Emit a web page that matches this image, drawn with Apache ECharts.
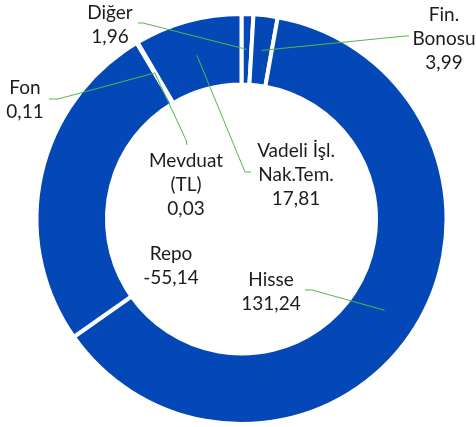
<!DOCTYPE html>
<html>
<head>
<meta charset="utf-8">
<script src="https://cdn.jsdelivr.net/npm/echarts@6/dist/echarts.min.js"></script>
<style>
  html, body { margin: 0; padding: 0; background: #fff; }
  #chart { width: 476px; height: 427px; }
</style>
</head>
<body>
<div id="chart"></div>
<script>
"use strict";

// slice order is the sheet order, clockwise from 12 o'clock
const names = ["Diğer", "Fin.\nBonosu", "Hisse", "Repo", "Mevduat\n(TL)", "Fon", "Vadeli İşl.\nNak.Tem."];
const values = [1.96, 3.99, 131.24, -55.14, 0.03, 0.11, 17.81];

const colors = { blue: "#0348B6", line: "#52B947", text: "#1c1c1c" };

// where each label block sits and the elbow of its leader line
const labelSpots = [
  { x: 110, y: 25, bend: [[143, 23], [138, 23]] },
  { x: 444, y: 39, bend: [[405, 36], [409, 36]] },
  { x: 271, y: 292, bend: [[312, 290], [305, 290]] },
  { x: 171, y: 266, bend: null },
  { x: 186, y: 185, bend: [[186, 140], [187, 145]] },
  { x: 25, y: 100, bend: [[58, 99], [49, 99]] },
  { x: 296, y: 175, bend: [[245, 172], [251, 172]] },
];

const chart = echarts.init(document.getElementById("chart"), null, { renderer: "canvas" });

const fmt = (v) => v.toFixed(2).replace(".", ",");

function anchor(index) {
  // middle of the ring, at the slice's middle angle, from the series layout
  const layout = chart.getModel().getSeriesByIndex(0).getData().getItemLayout(index);
  const mid = (layout.startAngle + layout.endAngle) / 2;
  const r = (layout.r + layout.r0) / 2;
  return [layout.cx + r * Math.cos(mid), layout.cy + r * Math.sin(mid)];
}

chart.setOption({
  animation: false,
  backgroundColor: "#fff",
  series: [{
    type: "pie",
    center: [241.5, 219],
    radius: [134.5, 205],
    startAngle: 90,
    clockwise: true,
    avoidLabelOverlap: false,
    silent: true,
    itemStyle: { color: colors.blue, borderColor: "#fff", borderWidth: 4 },
    label: {
      show: true,
      formatter: (p) => p.name + "\n" + fmt(values[p.dataIndex]),
      fontFamily: "Lato",
      fontSize: 19,
      lineHeight: 24,
      color: colors.text,
      align: "center",
    },
    labelLine: { show: false },
    labelLayout: (params) => {
      const spot = labelSpots[params.dataIndex];
      return { x: spot.x, y: spot.y, align: "center", verticalAlign: "middle" };
    },
    data: names.map((name, i) => ({ name, value: Math.abs(values[i]) })),
  }],
});

// leader lines go on top of the ring, so draw them as graphics once the layout exists
chart.setOption({
  graphic: labelSpots
    .map((spot, i) => spot.bend && {
      type: "polyline",
      z: 10,
      silent: true,
      shape: { points: [anchor(i), ...spot.bend] },
      style: { stroke: colors.line, lineWidth: 1, fill: null },
    })
    .filter(Boolean),
});
</script>
</body>
</html>
